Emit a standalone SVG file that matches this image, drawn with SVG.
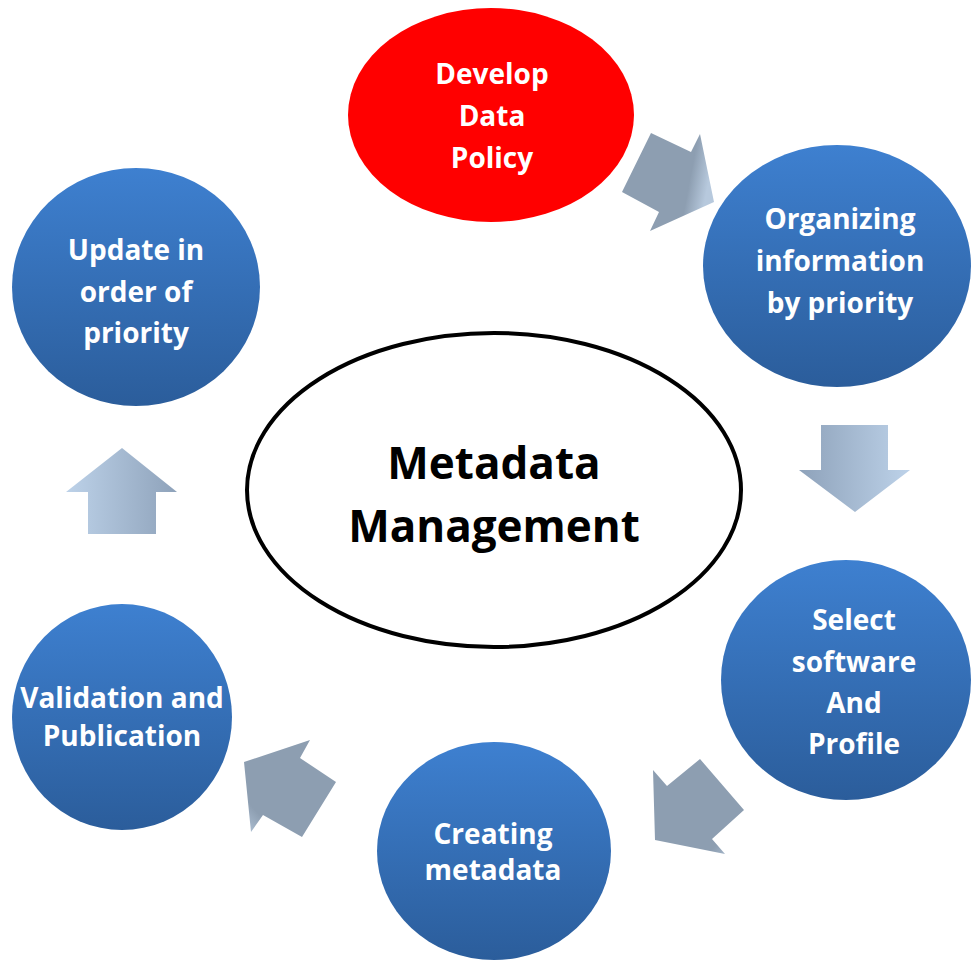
<svg xmlns="http://www.w3.org/2000/svg" width="971" height="960" viewBox="0 0 971 960">
<defs>
<linearGradient id="blue" x1="0" y1="0" x2="0" y2="1">
<stop offset="0" stop-color="#3e80d0"/>
<stop offset="1" stop-color="#2b5d9b"/>
</linearGradient>
<linearGradient id="hgrad" x1="0" y1="0" x2="1" y2="0">
<stop offset="0" stop-color="#8ea2ba"/>
<stop offset="1" stop-color="#bdd2e9"/>
</linearGradient>
<linearGradient id="hgradR" x1="0" y1="0" x2="1" y2="0">
<stop offset="0" stop-color="#bdd2e9"/>
<stop offset="1" stop-color="#8ea2ba"/>
</linearGradient>
<linearGradient id="diag1" x1="0" y1="0" x2="1" y2="0.2">
<stop offset="0" stop-color="#8d9eb1"/>
<stop offset="0.8" stop-color="#8d9eb1"/>
<stop offset="1" stop-color="#b7c9dd"/>
</linearGradient>
<linearGradient id="diag2" x1="0" y1="0" x2="1" y2="1">
<stop offset="0" stop-color="#8d9eb1"/>
<stop offset="0.8" stop-color="#8d9eb1"/>
<stop offset="1" stop-color="#b7c9dd"/>
</linearGradient>
<linearGradient id="diag3" x1="1" y1="0" x2="0" y2="1">
<stop offset="0" stop-color="#8d9eb1"/>
<stop offset="0.8" stop-color="#8d9eb1"/>
<stop offset="1" stop-color="#b7c9dd"/>
</linearGradient>
</defs>
<style>
.node{fill:url(#blue);}
.lbl{font-family:"Open Sans","Liberation Sans",sans-serif;font-weight:700;font-size:28px;fill:#ffffff;text-anchor:middle;}
.center{font-family:"Open Sans","Liberation Sans",sans-serif;font-weight:700;font-size:44px;fill:#000000;text-anchor:middle;}
</style>
<g id="connectors">
<polygon points="651,133 691,152 700,134 714,202 650,231 659,212 622,192" fill="url(#diag1)"/>
<polygon points="821,425 888,425 888,470 910,470 855,512 799,470 821,470" fill="url(#hgrad)"/>
<polygon points="700,759 744,810 712,839 725,854 655,840 653,770 667,786" fill="url(#diag2)"/>
<polygon points="244,762 310,740 300,758 336,782 302,837 263,815 251,832" fill="url(#diag3)"/>
<polygon points="122,448 177,492 156,492 156,534 88,534 88,492 66,492" fill="url(#hgradR)"/>
</g>
<g id="develop">
<ellipse cx="491" cy="115" rx="143" ry="107" fill="#ff0000"/>
<text class="lbl" x="492" y="84">Develop</text>
<text class="lbl" x="492" y="126">Data</text>
<text class="lbl" x="492" y="168">Policy</text>
</g>
<g id="organizing">
<ellipse class="node" cx="837" cy="266" rx="134" ry="121"/>
<text class="lbl" x="840" y="229">Organizing</text>
<text class="lbl" x="840" y="271">information</text>
<text class="lbl" x="840" y="313">by priority</text>
</g>
<g id="update">
<ellipse class="node" cx="136" cy="287" rx="124" ry="119"/>
<text class="lbl" x="136" y="260">Update in</text>
<text class="lbl" x="136" y="302">order of</text>
<text class="lbl" x="136" y="343">priority</text>
</g>
<g id="center">
<ellipse cx="494" cy="490" rx="247" ry="157" fill="#ffffff" stroke="#000000" stroke-width="4"/>
<text class="center" x="494" y="479">Metadata</text>
<text class="center" x="494" y="542">Management</text>
</g>
<g id="select">
<ellipse class="node" cx="846" cy="680" rx="125" ry="120"/>
<text class="lbl" x="854" y="630">Select</text>
<text class="lbl" x="854" y="672">software</text>
<text class="lbl" x="854" y="713">And</text>
<text class="lbl" x="854" y="754">Profile</text>
</g>
<g id="creating">
<ellipse class="node" cx="494" cy="851" rx="117" ry="109"/>
<text class="lbl" x="493" y="844">Creating</text>
<text class="lbl" x="493" y="880">metadata</text>
</g>
<g id="validation">
<ellipse class="node" cx="122" cy="717" rx="110" ry="113"/>
<text class="lbl" x="122" y="708">Validation and</text>
<text class="lbl" x="122" y="746">Publication</text>
</g>
</svg>
